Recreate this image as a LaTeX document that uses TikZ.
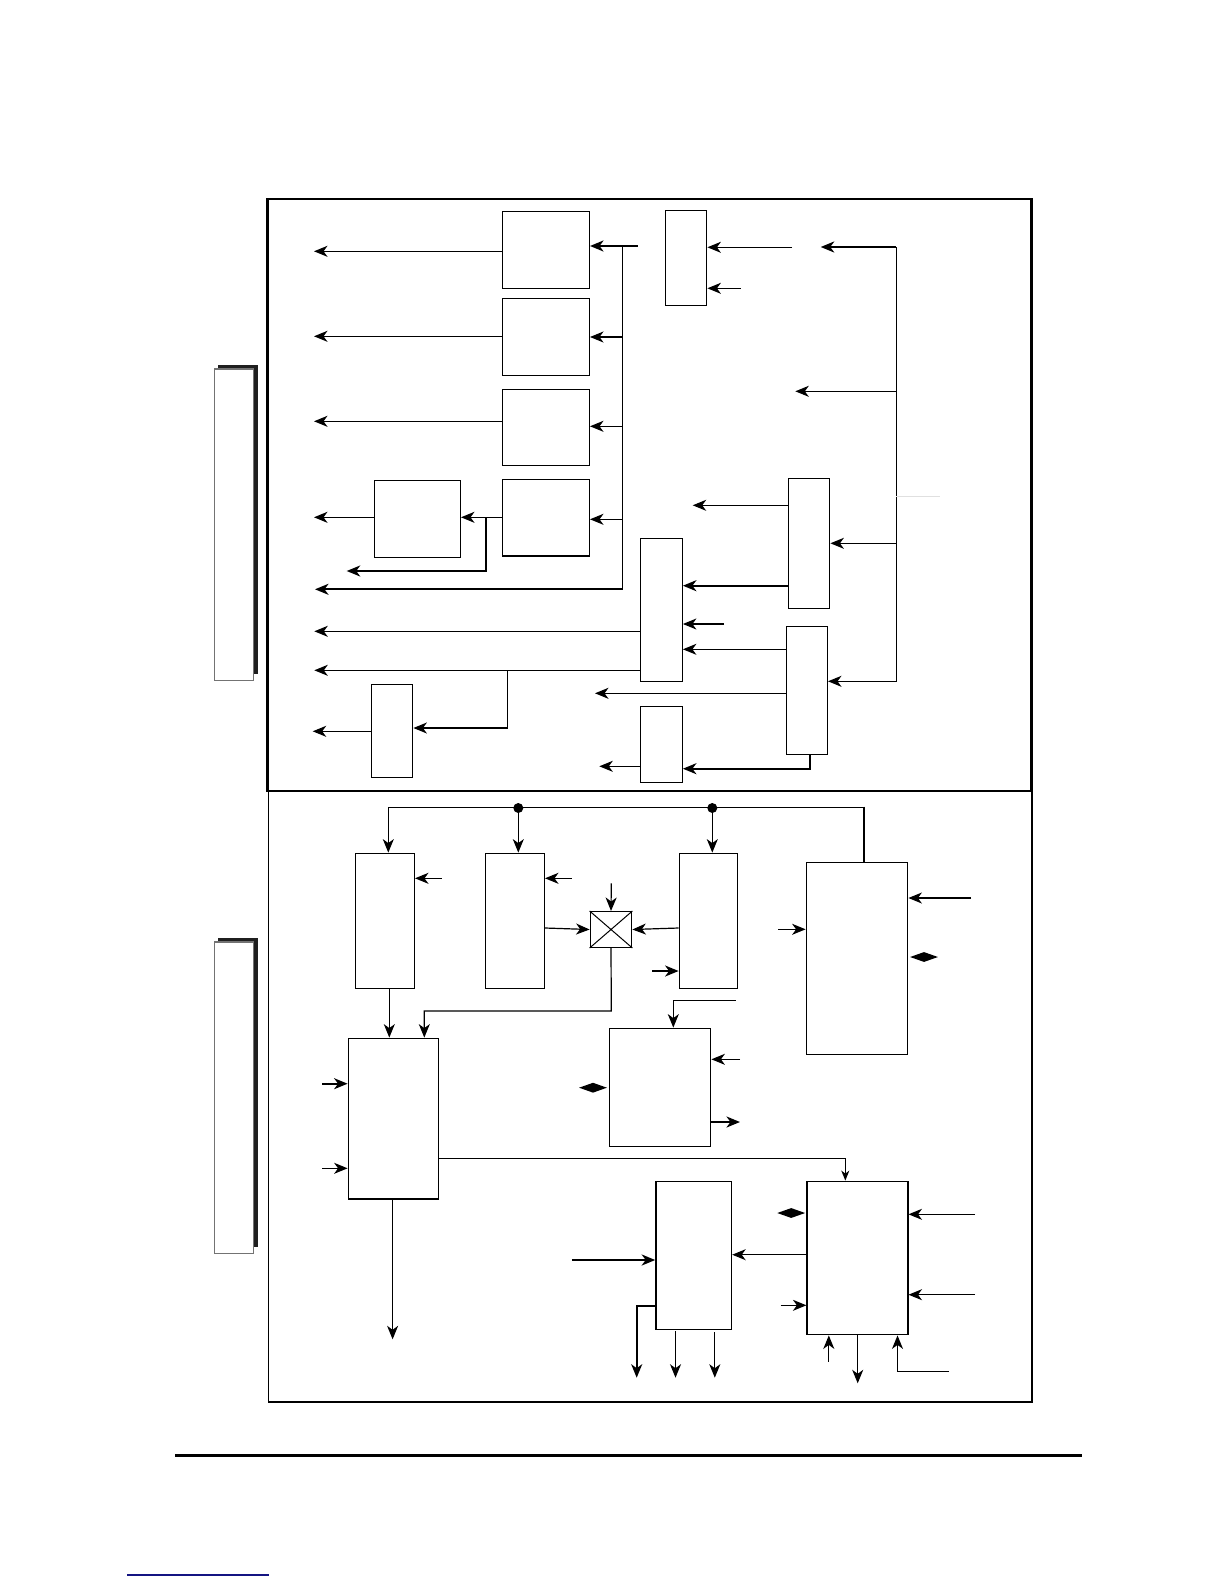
\documentclass[tikz,border=0pt]{standalone}
\usetikzlibrary{arrows.meta,fit,shapes.geometric}
\begin{document}
\begin{tikzpicture}[x=1pt,y=-1pt,
  box/.style={draw, line width=1.4pt, inner sep=0pt, fill=white},
  ln/.style={line width=1.2pt},
  thk/.style={line width=2.3pt},
  arr/.style={-{Stealth[length=13.5pt,width=11pt,inset=4pt]}},
  sarr/.style={-{Stealth[length=10pt,width=8pt,inset=3pt]}},
  dia/.style={diamond, fill=black, inner sep=0pt, minimum width=28pt, minimum height=10pt},
  dot/.style={circle, fill=black, inner sep=0pt, minimum size=10pt},
  shadow/.style={fill=black!88},
  binder/.style={draw=black!55, line width=1.2pt, fill=white}
]
\useasboundingbox (0,0) rectangle (1224,1584);
\fill[white] (0,0) rectangle (1224,1584);

% ---------- frames ----------
\draw[line width=2.5pt] (267.7,199) rectangle (1031.7,791);
\draw[line width=1.3pt] (268.5,791) -- (268.5,1402) -- (1032,1402) -- (1032,791);

% ---------- binders ----------
\fill[shadow] (217.7,365) rectangle (257.7,674);
\draw[binder] (214.3,369) rectangle (253.3,680.7);
\fill[shadow] (218.3,938.3) rectangle (258.3,1246.7);
\draw[binder] (214.7,942) rectangle (253.3,1253.3);

% ---------- top section boxes ----------
\node[box, fit={(502.3,211.3) (589.3,288.3)}] (A1) {};
\node[box, fit={(502.3,298.7) (589.3,375.3)}] (A2) {};
\node[box, fit={(502.3,389.3) (589.3,465.3)}] (A3) {};
\node[box, fit={(502.3,479.3) (589.3,556)}] (A4) {};
\node[box, fit={(374.3,480.7) (460.3,557.3)}] (B) {};
\node[box, fit={(665.3,210.3) (706.7,305.3)}] (C) {};
\node[box, fit={(788.3,478.3) (829.7,608.3)}] (D) {};
\node[box, fit={(640.5,538.3) (682.2,681.3)}] (F) {};
\node[box, fit={(786.7,626.3) (827.3,754.7)}] (E) {};
\node[box, fit={(640.5,706.7) (682.2,782.3)}] (G) {};
\node[box, fit={(371.3,684.7) (412.7,777.3)}] (H) {};

% outputs of A boxes
\draw[ln,arr] (A1.west |- 0,251.3) -- (314,251.3);
\draw[ln,arr] (A2.west |- 0,336.3) -- (314,336.3);
\draw[ln,arr] (A3.west |- 0,421.3) -- (314,421.3);
\draw[ln,arr] (B.west |- 0,517.3) -- (314,517.3);

% left bus
\coordinate (lbT) at (622.7,246);
\coordinate (lbB) at (622.7,589.3);
\draw[thk,arr] (637.7,246) -- (A1.east |- lbT);
\draw[ln] (lbT) -- (lbB);
\draw[line width=2pt,arr] (lbB) -- (315,589.3);
\draw[ln,arr] (622.7,337) -- (A2.east |- 0,337);
\draw[ln,arr] (622.7,426.3) -- (A3.east |- 0,426.3);
\draw[ln,arr] (622.7,519.3) -- (A4.east |- 0,519.3);

% A4 to B and branch
\draw[ln,arr] (A4.west |- 0,517.3) -- (B.east |- 0,517.3);
\draw[line width=1.8pt,arr] (486,517.3) -- (486,571) -- (346.7,571);

% C inputs
\draw[ln,arr] (792,247.3) -- (C.east |- 0,247.3);
\draw[ln,arr] (740.7,288.3) -- (C.east |- 0,288.3);

% right bus
\coordinate (rbT) at (896.3,247);
\draw[thk,arr] (rbT) -- (820.7,247);
\draw[ln,arr] (rbT) -- (896.3,681.3) -- (E.east |- 0,681.3);
\draw[ln,arr] (896.3,391.3) -- (795.3,391.3);
\draw[line width=0.8pt, black!12] (896.3,496) -- (940,496);
\draw[ln,arr] (896.3,543.3) -- (D.east |- 0,543.3);

% D outputs
\draw[ln,arr] (D.west |- 0,505.3) -- (692.7,505.3);
\draw[line width=2pt,arr] (D.west |- 0,585.7) -- (F.east |- 0,585.7);

% F inputs
\draw[ln,arr] (724,624) -- (F.east |- 0,624);
\draw[ln,arr] (E.west |- 0,649.3) -- (F.east |- 0,649.3);

% F outputs
\draw[ln,arr] (F.west |- 0,631.3) -- (314.3,631.3);
\draw[ln,arr] (F.west |- 0,670.3) -- (314.3,670.3);
\draw[ln,arr] (507.3,670.3) -- (507.3,728) -- (H.east |- 0,728);
\draw[ln,arr] (H.west |- 0,731.3) -- (312.7,731.3);

% E and G
\draw[ln,arr] (E.west |- 0,693.3) -- (595,693.3);
\draw[ln,arr] (G.west |- 0,766.3) -- (599.3,766.3);
\draw[line width=2pt,arr] (810.3,754.7) -- (810.3,768.7) -- (G.east |- 0,768.7);

% ---------- bottom section boxes ----------
\node[box, fit={(355.7,853.3) (414.3,988.3)}] (I) {};
\node[box, fit={(485.7,853.3) (544.3,988.3)}] (J) {};
\node[box, fit={(679.3,853.3) (737.3,988.3)}] (P) {};
\node[box, fit={(590.3,911.7) (631.7,947.3)}] (Mx) {};
\draw[line width=1pt] (Mx.north west) -- (Mx.south east) (Mx.north east) -- (Mx.south west);
\node[box, fit={(806.3,862.3) (907.7,1054.3)}] (M) {};
\node[box, fit={(348.3,1038.3) (438.3,1199)}] (K) {};
\node[box, fit={(609.3,1028.3) (710.7,1146.3)}] (L) {};
\node[box, fit={(655.9,1181.3) (731.5,1329.3)}] (O) {};
\node[box, fit={(807.1,1181.3) (907.8,1334.7)}] (N) {};

% top bus of bottom section
\draw[ln] (388.3,807.3) -- (864,807.3);
\draw[line width=2pt] (864,806.7) -- (M.north -| 864,0);
\node[dot] (d1) at (518.3,808) {};
\node[dot] (d2) at (712.3,808) {};
\draw[ln,arr] (388.3,807.3) -- (I.north -| 388.3,0);
\draw[ln,arr] (d1) -- (J.north -| 518.3,0);
\draw[ln,arr] (d2) -- (P.north -| 712.3,0);

% I, J, P, mixer
\draw[ln,arr] (441.7,878.3) -- (I.east |- 0,878.3);
\draw[ln,arr] (571.7,878.3) -- (J.east |- 0,878.3);
\draw[ln,arr] (J.east |- 0,928) -- (Mx.west);
\draw[ln,arr] (611.3,883.3) -- (Mx.north);
\draw[ln,arr] (P.west |- 0,928) -- (Mx.east);
\draw[line width=2pt,arr] (652,971) -- (P.west |- 0,971);
\draw[ln,arr] (Mx.south) -- (611.3,1011) -- (424.3,1011) -- (K.north -| 424.3,0);
\draw[ln,arr] (I.south -| 389.3,0) -- (K.north -| 389.3,0);

% K
\draw[line width=1.8pt,arr] (322,1083.7) -- (K.west |- 0,1083.7);
\draw[ln,arr] (322,1168.3) -- (K.west |- 0,1168.3);
\draw[ln,sarr] (K.east |- 0,1158.3) -- (845.3,1158.3) -- (N.north -| 845.3,0);
\draw[ln,arr] (K.south -| 392.6,0) -- (392.6,1339.3);

% L
\draw[ln,arr] (735.7,1000.3) -- (673.3,1000.3) -- (L.north -| 673.3,0);
\draw[ln,arr] (740,1059.3) -- (L.east |- 0,1059.3);
\draw[line width=2pt,arr] (L.east |- 0,1122) -- (740,1122);
\node[dia] (dL) at (593,1087.7) {};

% M
\draw[ln,arr] (778,929.3) -- (M.west |- 0,929.3);
\draw[ln,arr] (971,898) -- (M.east |- 0,898);
\node[dia] (dM) at (924,957) {};

% O and N
\draw[thk,arr] (571.9,1260) -- (O.west |- 0,1260);
\draw[ln,arr] (N.west |- 0,1254.7) -- (O.east |- 0,1254.7);
\node[dia] (dN) at (791.2,1213) {};
\draw[ln,arr] (975,1214.3) -- (N.east |- 0,1214.3);
\draw[ln,arr] (975,1294.7) -- (N.east |- 0,1294.7);
\draw[ln,arr] (780.6,1305.3) -- (N.west |- 0,1305.3);
\draw[line width=2pt,arr] (O.west |- 0,1305.7) -- (636.7,1305.7) -- (636.7,1377.7);
\draw[ln,arr] (675.5,1331) -- (675.5,1377.7);
\draw[ln,arr] (714.8,1332) -- (714.8,1377.7);
\draw[ln,arr] (828.8,1361.7) -- (N.south -| 828.8,0);
\draw[ln,arr] (N.south -| 857.7,0) -- (857.7,1383.3);
\draw[ln,arr] (949,1371.3) -- (897.5,1371.3) -- (N.south -| 897.5,0);

% ---------- footer ----------
\draw[line width=2.5pt] (175.3,1455.5) -- (1082,1455.5);
\draw[line width=1.5pt, draw={rgb,255:red,20;green,20;blue,130}] (127,1575) -- (269,1575);
\end{tikzpicture}
\end{document}
